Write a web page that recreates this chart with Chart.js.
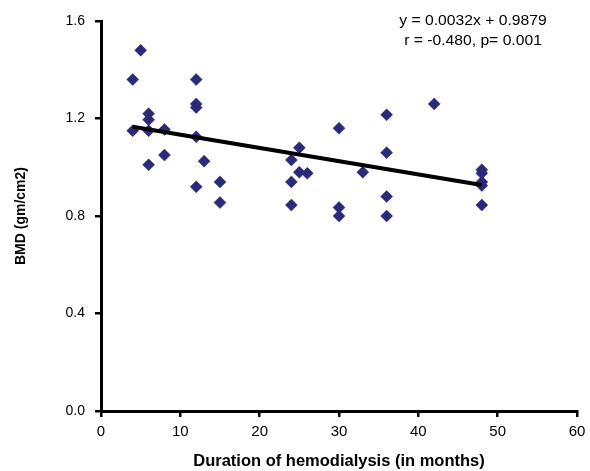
<!DOCTYPE html>
<html>
<head>
<meta charset="utf-8">
<script src="https://cdn.jsdelivr.net/npm/chart.js@4/dist/chart.umd.min.js"></script>
<style>
html,body{margin:0;padding:0;background:#fff;}
#wrap{width:590px;height:471px;position:relative;}
</style>
</head>
<body>
<div id="wrap"><canvas id="c" width="590" height="471"></canvas></div>
<script>
// Data
const durationMonths = [4, 5, 4, 6, 6, 6, 6, 8, 8, 12, 12, 12, 12, 13, 12, 15, 15,
  25, 24, 25, 26, 24, 24, 30, 30, 30, 33, 36, 36, 36, 36, 42, 48, 48, 48, 48, 48];
const bmdValues = [1.36, 1.48, 1.15, 1.22, 1.195, 1.15, 1.01, 1.155, 1.05, 1.36, 1.26, 1.245, 1.125, 1.025, 0.92, 0.94, 0.855,
  1.08, 1.03, 0.98, 0.975, 0.94, 0.845, 1.16, 0.835, 0.80, 0.98, 1.215, 1.06, 0.88, 0.80, 1.26, 0.99, 0.975, 0.94, 0.925, 0.845];
const trendX = [4, 48];
const trendY = [1.166, 0.927];
const xTicks = [0, 10, 20, 30, 40, 50, 60];
const yTicks = [0.0, 0.4, 0.8, 1.2, 1.6];
const equationLines = ["y = 0.0032x + 0.9879", "r = -0.480, p= 0.001"];
const xTitle = "Duration of hemodialysis (in months)";
const yTitle = "BMD (gm/cm2)";

const scatterPts = durationMonths.map((x, i) => ({x: x, y: bmdValues[i]}));
const trendPts = trendX.map((x, i) => ({x: x, y: trendY[i]}));

const FONT = "'Liberation Sans', Arial, sans-serif";

const annotationPlugin = {
  id: 'eqText',
  afterDraw(chart) {
    const ctx = chart.ctx;
    ctx.save();
    ctx.fillStyle = '#000';
    ctx.font = "14px " + FONT;
    ctx.textAlign = 'center';
    ctx.textBaseline = 'middle';
    const cx = 473, sx = 1.12;
    ctx.translate(cx, 0);
    ctx.scale(sx, 1);
    ctx.fillText(equationLines[0], 0, 21);
    ctx.fillText(equationLines[1], 0, 41);
    ctx.restore();
  }
};

new Chart(document.getElementById('c'), {
  type: 'scatter',
  data: {
    datasets: [
      {
        type: 'line',
        data: trendPts,
        borderColor: '#000',
        borderWidth: 4,
        pointRadius: 0,
        fill: false,
        order: 0
      },
      {
        data: scatterPts,
        pointStyle: 'rectRot',
        pointRadius: 6,
        pointBackgroundColor: '#2b2a78',
        pointBorderColor: '#2b2a78',
        pointBorderWidth: 0.5,
        order: 1
      }
    ]
  },
  options: {
    responsive: false,
    animation: false,
    devicePixelRatio: 1,
    layout: { padding: { top: 21, right: 13, left: 0, bottom: 0 } },
    plugins: { legend: { display: false }, tooltip: { enabled: false } },
    scales: {
      x: {
        type: 'linear',
        min: 0, max: 60,
        afterBuildTicks(s) { s.ticks = xTicks.map(v => ({value: v})); },
        afterFit(s) { s.height = 60; s.paddingRight = 0; s.paddingLeft = 0; },
        border: { color: '#000', width: 3 },
        grid: { drawOnChartArea: false, drawTicks: true, tickLength: 6, color: '#000', lineWidth: 2.5 },
        ticks: { color: '#000', font: { family: FONT, size: 15 }, padding: 6, maxRotation: 0 },
        title: { display: true, text: xTitle, color: '#000', font: { family: FONT, size: 16.5, weight: 'bold' }, padding: { top: 0, bottom: 0 } }
      },
      y: {
        type: 'linear',
        min: 0, max: 1.6,
        afterBuildTicks(s) { s.ticks = yTicks.map(v => ({value: v})); },
        afterFit(s) { s.width = 101; },
        border: { color: '#000', width: 3 },
        grid: { drawOnChartArea: false, drawTicks: true, tickLength: 6, color: '#000', lineWidth: 2.5 },
        ticks: { color: '#000', font: { family: FONT, size: 14 }, padding: 10, callback: v => Number(v).toFixed(1) },
        title: { display: true, text: yTitle, color: '#000', font: { family: FONT, size: 14, weight: 'bold' }, padding: { top: 13, bottom: 0 } }
      }
    }
  },
  plugins: [annotationPlugin]
});
</script>
</body>
</html>
